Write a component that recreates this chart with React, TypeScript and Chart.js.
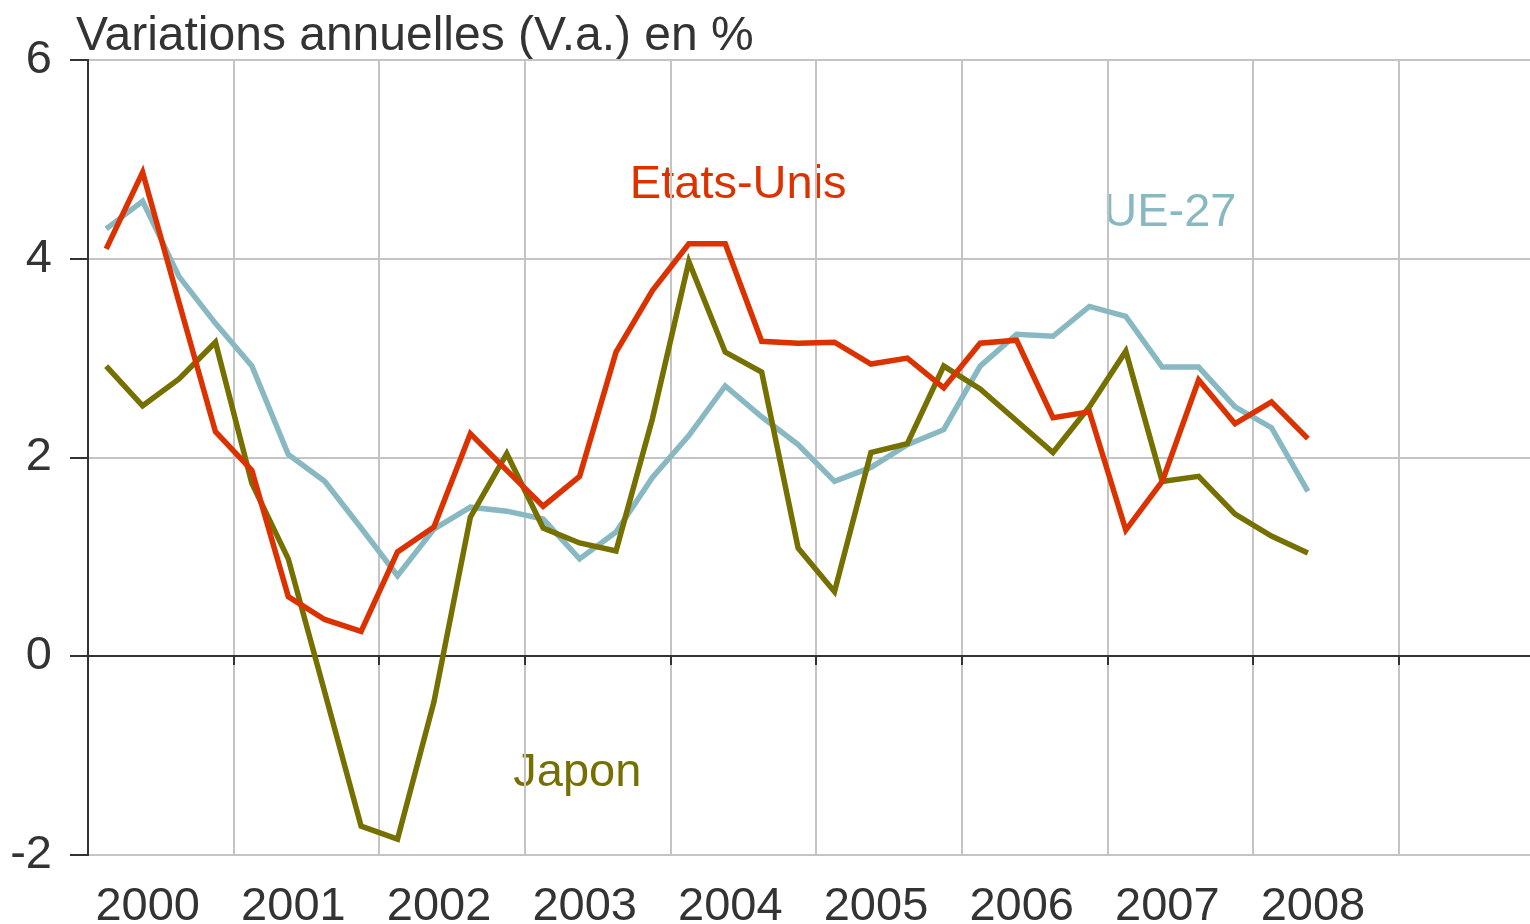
import React, { useEffect, useRef } from "react";
import { Chart, registerables } from "chart.js";

Chart.register(...registerables);

const years = ["2000", "2001", "2002", "2003", "2004", "2005", "2006", "2007", "2008"];
const quarters = [
  "2000T1", "2000T2", "2000T3", "2000T4",
  "2001T1", "2001T2", "2001T3", "2001T4",
  "2002T1", "2002T2", "2002T3", "2002T4",
  "2003T1", "2003T2", "2003T3", "2003T4",
  "2004T1", "2004T2", "2004T3", "2004T4",
  "2005T1", "2005T2", "2005T3", "2005T4",
  "2006T1", "2006T2", "2006T3", "2006T4",
  "2007T1", "2007T2", "2007T3", "2007T4",
  "2008T1", "2008T2",
];

const etatsUnis = [
  4.10, 4.87, 3.56, 2.26, 1.87, 0.60, 0.37, 0.25,
  1.05, 1.30, 2.24, 1.87, 1.51, 1.81, 3.06, 3.68,
  4.15, 4.15, 3.17, 3.15, 3.16, 2.94, 3.00, 2.70,
  3.15, 3.18, 2.40, 2.46, 1.27, 1.76, 2.78, 2.34,
  2.56, 2.19,
];
const ue27 = [
  4.30, 4.58, 3.82, 3.35, 2.92, 2.03, 1.76, 1.29,
  0.81, 1.28, 1.50, 1.46, 1.38, 0.98, 1.25, 1.80,
  2.22, 2.72, 2.41, 2.13, 1.76, 1.90, 2.13, 2.28,
  2.92, 3.24, 3.22, 3.52, 3.42, 2.91, 2.91, 2.51,
  2.30, 1.66,
];
const japon = [
  2.92, 2.52, 2.79, 3.16, 1.74, 0.98, -0.36, -1.71,
  -1.84, -0.46, 1.40, 2.04, 1.29, 1.14, 1.06, 2.39,
  3.97, 3.06, 2.86, 1.09, 0.65, 2.05, 2.14, 2.92,
  2.69, 2.37, 2.05, 2.51, 3.07, 1.76, 1.81, 1.43,
  1.21, 1.04,
];

const yTicks = [-2, 0, 2, 4, 6];

const seriesNames = ["Etats-Unis", "Japon", "UE-27"];
const seriesColors = ["#db3200", "#767000", "#88b9c3"];
// label anchors in data coordinates (years since 2000, %)
const labelX = [3.72, 2.92, 6.97];
const labelY = [4.61, -1.31, 4.33];

const titleText = "Variations annuelles (V.a.) en %";
const FONT = "'Liberation Sans', Arial, Helvetica, sans-serif";
const TEXT = "#333333";
const GRID = "#c4c4c4";

const toPoints = (vals: number[]) =>
  vals.map((v, i) => ({ x: (i + 0.5) / 4, y: v, q: quarters[i] }));

const annotationPlugin = {
  id: "annotations",
  beforeDraw(chart: any) {
    const { ctx, scales, chartArea } = chart;
    ctx.save();
    ctx.textBaseline = "alphabetic";
    ctx.textAlign = "left";
    ctx.fillStyle = TEXT;
    ctx.font = `48px ${FONT}`;
    ctx.fillText(titleText, chartArea.left - 12, chartArea.top - 10);
    ctx.font = `47px ${FONT}`;
    seriesNames.forEach((name, k) => {
      ctx.fillStyle = seriesColors[k];
      ctx.fillText(name, scales.x.getPixelForValue(labelX[k]), scales.y.getPixelForValue(labelY[k]));
    });
    ctx.restore();
  },
};

export default function App() {
  const ref = useRef<HTMLCanvasElement | null>(null);

  useEffect(() => {
    document.body.style.margin = "0";
    if (!ref.current) return;
    const datasets = [etatsUnis, japon, ue27].map((vals, k) => ({
      label: seriesNames[k],
      data: toPoints(vals),
      borderColor: seriesColors[k],
      backgroundColor: seriesColors[k],
      borderWidth: 5.5,
      pointRadius: 0,
      tension: 0,
      fill: false,
    }));

    const chart = new Chart(ref.current, {
      type: "line",
      data: { datasets },
      plugins: [annotationPlugin],
      options: {
        animation: false,
        responsive: true,
        maintainAspectRatio: false,
        layout: { padding: { top: 60, right: 0, left: 0, bottom: 0 } },
        plugins: {
          legend: { display: false },
          title: { display: false },
          tooltip: { enabled: false },
        },
        scales: {
          x: {
            type: "linear",
            min: 0,
            max: 9.9,
            position: { y: 0 } as any,
            afterBuildTicks: (s: any) => {
              s.ticks = years.concat([""]).map((_, k) => ({ value: k }));
            },
            ticks: { display: false },
            grid: {
              color: GRID,
              lineWidth: 2,
              drawTicks: true,
              tickLength: 8,
              tickColor: TEXT,
              tickWidth: 2,
            },
            border: { display: true, color: TEXT, width: 2 },
          },
          xl: {
            type: "linear",
            axis: "x",
            position: "bottom",
            min: 0,
            max: 9.9,
            afterBuildTicks: (s: any) => {
              s.ticks = years.map((_, k) => ({ value: k + 0.41 }));
            },
            afterFit: (s: any) => {
              s.height = 69;
            },
            ticks: {
              autoSkip: false,
              maxRotation: 0,
              padding: 16,
              color: TEXT,
              font: { family: FONT, size: 47 },
              callback: (_v: any, i: number) => years[i],
            },
            grid: { display: false },
            border: { display: false },
          } as any,
          y: {
            type: "linear",
            min: -2,
            max: 6,
            afterBuildTicks: (s: any) => {
              s.ticks = yTicks.map((v) => ({ value: v }));
            },
            afterFit: (s: any) => {
              s.width = 88;
            },
            ticks: {
              padding: 18,
              color: TEXT,
              font: { family: FONT, size: 47 },
              callback: (v: any) => String(v),
            },
            grid: {
              color: (c: any) => (c.tick && c.tick.value === 0 ? TEXT : GRID),
              lineWidth: 2,
              drawTicks: true,
              tickLength: 18,
              tickColor: TEXT,
              tickWidth: 2,
            },
            border: { display: true, color: TEXT, width: 2 },
          },
        },
      },
    });
    return () => chart.destroy();
  }, []);

  return (
    <div style={{ width: 1530, height: 924, position: "relative" }}>
      <canvas ref={ref} />
    </div>
  );
}
